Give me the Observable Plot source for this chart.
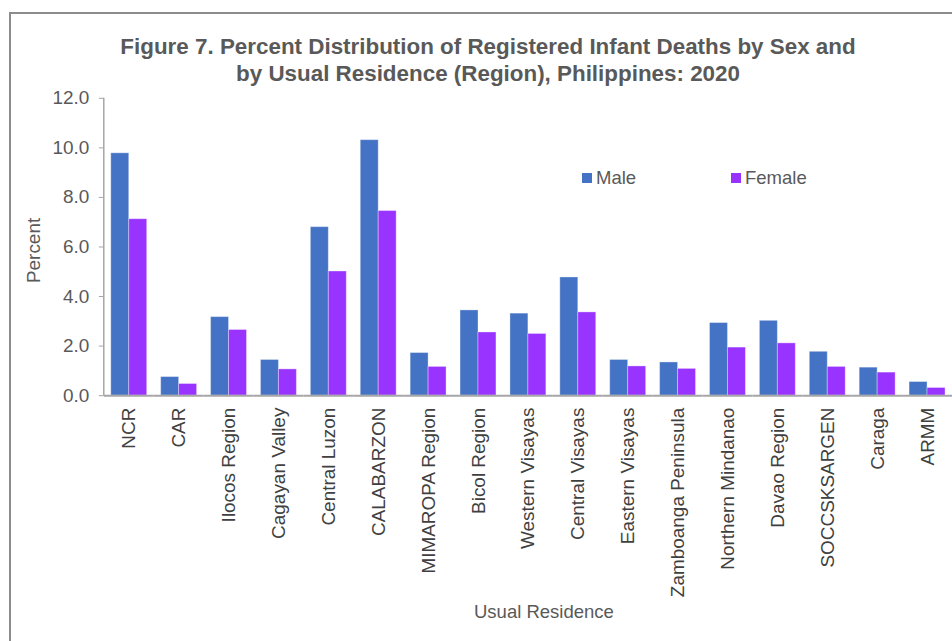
<!DOCTYPE html>
<html>
<head>
<meta charset="utf-8">
<script src="https://cdn.jsdelivr.net/npm/d3@7"></script>
<script src="https://cdn.jsdelivr.net/npm/@observablehq/plot@0.6"></script>
<style>
  html, body { margin: 0; padding: 0; background: #fff; overflow: hidden; }
  body { width: 952px; height: 641px; position: relative; font-family: "Liberation Sans", Arial, sans-serif; }
  #frame { position: absolute; left: 9px; top: 12px; width: 1000px; height: 700px; border: 2px solid #8c8c8c; box-sizing: border-box; }
  #title { position: absolute; left: 0; width: 976px; top: 33px; text-align: center; font-weight: bold; font-size: 22.4px; line-height: 27px; color: #595959; white-space: nowrap; }
  #chart { position: absolute; left: 0; top: 0; }
  .legend { position: absolute; top: 167px; font-size: 18.5px; color: #595959; display: flex; align-items: center; }
  .legend span.sw { display: inline-block; width: 10px; height: 10px; margin-right: 4px; }
  #xlabel { position: absolute; top: 601px; left: 474px; font-size: 18.5px; color: #595959; }
</style>
</head>
<body>
<div id="frame"></div>
<div id="title">Figure 7. Percent Distribution of Registered Infant Deaths by Sex and<br>by Usual Residence (Region), Philippines: 2020</div>
<div id="chart"></div>
<div id="legend"></div>
<script>
const regions = ["NCR", "CAR", "Ilocos Region", "Cagayan Valley", "Central Luzon", "CALABARZON", "MIMAROPA Region", "Bicol Region", "Western Visayas", "Central Visayas", "Eastern Visayas", "Zamboanga Peninsula", "Northern Mindanao", "Davao Region", "SOCCSKSARGEN", "Caraga", "ARMM"];
const male   = [9.78, 0.75, 3.17, 1.44, 6.80, 10.31, 1.72, 3.44, 3.31, 4.77, 1.44, 1.34, 2.93, 3.02, 1.77, 1.13, 0.55];
const female = [7.12, 0.47, 2.65, 1.06, 5.01, 7.45, 1.16, 2.55, 2.49, 3.36, 1.18, 1.08, 1.94, 2.11, 1.16, 0.93, 0.31];
const sexes = ["Male", "Female"];
const colors = ["#4472C4", "#9933FF"];
const yTicks = [0, 2, 4, 6, 8, 10, 12];

const data = [];
regions.forEach((r, i) => {
  data.push({region: r, sex: "Male", value: male[i]});
  data.push({region: r, sex: "Female", value: female[i]});
});

const plot = Plot.plot({
  width: 954,
  height: 641,
  marginTop: 98,
  marginBottom: 245,
  marginLeft: 104,
  marginRight: 0,
  style: {fontFamily: "Liberation Sans, Arial, sans-serif", fontSize: "19px", color: "#595959", background: "transparent", overflow: "visible"},
  fx: {domain: regions, padding: 0, label: null, axis: null},
  x: {domain: sexes, paddingInner: 0, paddingOuter: 0.316, axis: null},
  y: {domain: [0, 12], ticks: yTicks, label: null},
  color: {domain: sexes, range: colors},
  marks: [
    Plot.barY(data, {fx: "region", x: "sex", y: "value", fill: "sex", stroke: "#ffffff", strokeOpacity: 0.35, strokeWidth: 1}),
    Plot.ruleY([0], {stroke: "#a6a6a6", strokeWidth: 2}),
    Plot.axisY({ticks: yTicks, tickFormat: d3.format(".1f"), tickSize: 5, tickPadding: 10, stroke: "#a6a6a6", fill: "#595959", fontSize: 19, label: null}),
    Plot.axisFx({domain: regions, tickRotate: -90, tickSize: 0, tickPadding: 12, fill: "#404040", fontSize: 19, label: null, anchor: "bottom"})
  ]
});
document.getElementById("chart").appendChild(plot);

// y axis domain line drawn with the plot's own y scale
const ys = plot.scale("y");
const svg = d3.select(plot.tagName === "svg" ? plot : plot.querySelector("svg"));
svg.append("line")
  .attr("x1", 104).attr("x2", 104)
  .attr("y1", ys.apply(0)).attr("y2", ys.apply(12))
  .attr("stroke", "#a6a6a6").attr("stroke-width", 1.5);

// y axis label
svg.append("text")
  .attr("transform", `translate(40,${(ys.apply(0) + ys.apply(12)) / 2 + 4}) rotate(-90)`)
  .attr("text-anchor", "middle")
  .attr("fill", "#595959")
  .attr("font-size", 19)
  .text("Percent");

// HTML legend
const legendPos = [582, 731];
const lg = document.getElementById("legend");
sexes.forEach((s, i) => {
  const d = document.createElement("div");
  d.className = "legend";
  d.style.left = legendPos[i] + "px";
  d.innerHTML = `<span class="sw" style="background:${colors[i]}"></span>${s}`;
  lg.appendChild(d);
});
const xl = document.createElement("div");
xl.id = "xlabel";
xl.textContent = "Usual Residence";
document.body.appendChild(xl);
</script>
</body>
</html>
